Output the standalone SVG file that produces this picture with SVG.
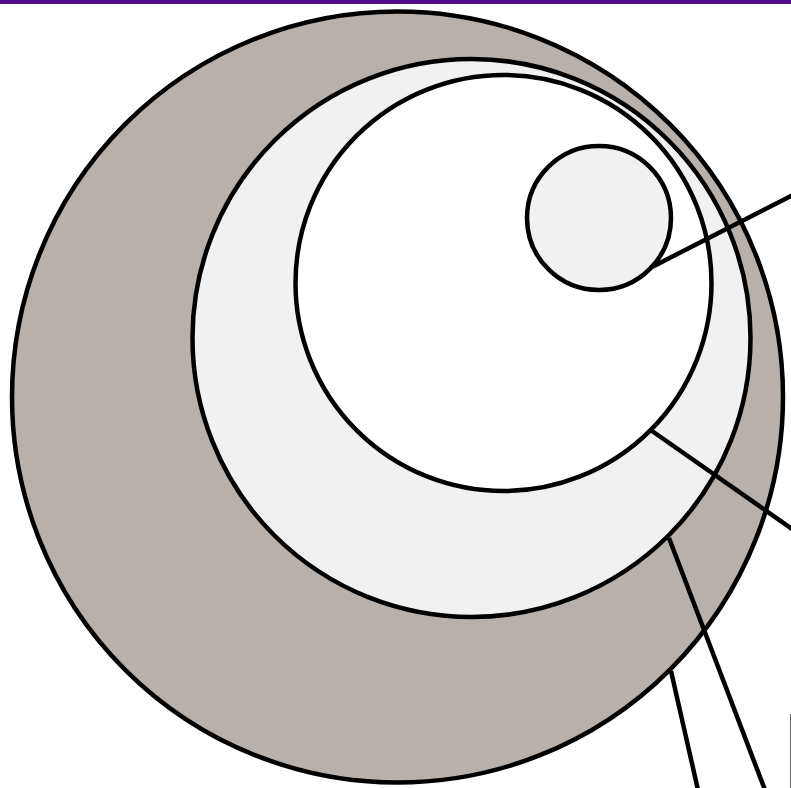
<svg xmlns="http://www.w3.org/2000/svg" width="791" height="788" viewBox="0 0 791 788">
<style>
.n{stroke:#000;stroke-width:4.5}
.c{stroke:#000;stroke-width:4.5;fill:none;stroke-linecap:butt}
</style>
<rect x="0" y="0" width="791" height="788" fill="#fff"/>
<rect x="0" y="0" width="791" height="4" fill="#4f0a85"/>
<g id="outer"><circle class="n" cx="397.5" cy="397" r="385.5" fill="#b8b0aa"/></g>
<g id="middle"><circle class="n" cx="471.5" cy="338" r="279" fill="#f1f1f1"/></g>
<g id="inner"><circle class="n" cx="503.5" cy="283" r="208" fill="#fff"/></g>
<g id="small"><circle class="n" cx="599" cy="218" r="72" fill="#f1f1f1"/></g>
<g id="connectors">
<line class="c" x1="650" y1="268" x2="795" y2="194"/>
<line class="c" x1="652" y1="431" x2="795" y2="531"/>
<line class="c" x1="669" y1="538" x2="765" y2="790"/>
<line class="c" x1="671" y1="671" x2="698" y2="790"/>
</g>
<line x1="790.5" y1="714" x2="790.5" y2="788" stroke="#666" stroke-width="1"/>
</svg>
